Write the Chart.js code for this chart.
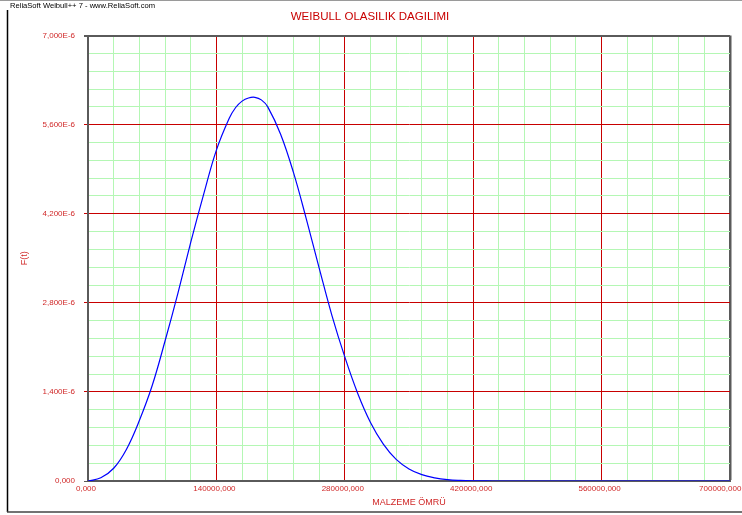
<!DOCTYPE html>
<html>
<head>
<meta charset="utf-8">
<script src="https://cdn.jsdelivr.net/npm/chart.js@4.4.1/dist/chart.umd.min.js"></script>
<style>
  html, body { margin: 0; padding: 0; background: #fff; }
  #chart { display: block; }
</style>
</head>
<body>
<canvas id="chart" width="742" height="515"></canvas>
<script>
var chartTitle = 'WEIBULL OLASILIK DAGILIMI';
var headerText = 'ReliaSoft Weibull++ 7 - www.ReliaSoft.com';
var xAxisTitle = 'MALZEME ÖMRÜ';
var yAxisTitle = 'F(t)';

// material life (x) and pdf, pdf in units of 1E-6
var lifeValues = [0, 14000, 28000, 42000, 56000, 70000, 84000, 98000, 112000, 126000,
  140000, 154000, 161000, 168000, 175000, 182000, 189000, 196000, 210000, 224000,
  238000, 252000, 266000, 280000, 294000, 308000, 322000, 336000, 350000, 364000,
  378000, 392000, 406000, 420000, 434000, 448000, 476000, 532000, 588000, 644000, 700000];
var pdfValues = [0, 0.05, 0.2, 0.5, 0.95, 1.5, 2.2, 2.95, 3.75, 4.5,
  5.2, 5.7, 5.87, 5.97, 6.02, 6.03, 5.99, 5.88, 5.45, 4.85,
  4.12, 3.35, 2.6, 1.95, 1.38, 0.92, 0.58, 0.34, 0.19, 0.1,
  0.05, 0.022, 0.009, 0.003, 0.001, 0, 0, 0, 0, 0, 0];

var xMajorTicks = [0, 140000, 280000, 420000, 560000, 700000];
var xTickLabels = ['0,000', '140000,000', '280000,000', '420000,000', '560000,000', '700000,000'];
var yMajorTicks = [0, 1.4, 2.8, 4.2, 5.6, 7.0];
var yTickLabels = ['0,000', '1,400E-6', '2,800E-6', '4,200E-6', '5,600E-6', '7,000E-6'];
var minorDivisions = 5;

var RED = '#c80000';
var LABEL_RED = '#d02828';
var GREEN = '#b4f7b4';
var BORDER = '#5a5a5a';
var FONT = '"Liberation Sans", Arial, sans-serif';

var buildTicks = function(majors) {
  var ticks = [];
  for (var i = 0; i < majors.length - 1; i++) {
    var step = (majors[i + 1] - majors[i]) / minorDivisions;
    for (var k = 0; k < minorDivisions; k++) {
      ticks.push({value: majors[i] + k * step});
    }
  }
  ticks.push({value: majors[majors.length - 1]});
  return ticks;
};

var gridColor = function(c) {
  var last = c.scale.ticks.length - 1;
  if (c.index === last) return BORDER;
  return c.index % minorDivisions === 0 ? RED : GREEN;
};

var points = lifeValues.map(function(x, i) {
  return {x: x, y: pdfValues[i]};
});

var framePlugin = {
  id: 'frame',
  beforeDraw: function(chart) {
    var ctx = chart.ctx;
    ctx.save();
    ctx.strokeStyle = '#9a9a9a';
    ctx.lineWidth = 1;
    ctx.beginPath();
    ctx.moveTo(0, 0.5);
    ctx.lineTo(742, 0.5);
    ctx.stroke();
    ctx.strokeStyle = '#000';
    ctx.lineWidth = 1.5;
    ctx.beginPath();
    ctx.moveTo(7.5, 10);
    ctx.lineTo(7.5, 512);
    ctx.stroke();
    ctx.strokeStyle = '#444';
    ctx.beginPath();
    ctx.moveTo(7, 512);
    ctx.lineTo(742, 512);
    ctx.stroke();
    ctx.fillStyle = '#000';
    ctx.font = '7.6px ' + FONT;
    ctx.textBaseline = 'middle';
    ctx.fillText(headerText, 10, 6);
    ctx.restore();
  }
};

new Chart(document.getElementById('chart'), {
  type: 'line',
  data: {
    datasets: [{
      data: points,
      borderColor: '#0000ff',
      borderWidth: 1.2,
      pointRadius: 0,
      fill: false,
      tension: 0.4
    }]
  },
  options: {
    responsive: false,
    animation: false,
    events: [],
    layout: {padding: {left: 10, right: 12, top: 0, bottom: 4}},
    plugins: {
      legend: {display: false},
      tooltip: {enabled: false},
      title: {
        display: true,
        text: chartTitle,
        color: RED,
        font: {family: FONT, size: 11.5, weight: 'normal'},
        padding: {top: 10, bottom: 11.8}
      }
    },
    scales: {
      x: {
        type: 'linear',
        min: 0,
        max: 700000,
        afterBuildTicks: function(scale) { scale.ticks = buildTicks(xMajorTicks); },
        afterFit: function(scale) {
          scale.height = 30;
          scale.paddingLeft = 0;
          scale.paddingRight = 0;
        },
        grid: {
          color: gridColor,
          lineWidth: function(c) { return c.index === c.scale.ticks.length - 1 ? 2.5 : 1; },
          drawTicks: false
        },
        border: {color: BORDER, width: 2},
        ticks: {
          autoSkip: false,
          maxRotation: 0,
          padding: 3,
          labelOffset: -2,
          color: LABEL_RED,
          font: {family: FONT, size: 8},
          callback: function(v, i) {
            if (i % minorDivisions !== 0) return '';
            var label = xTickLabels[i / minorDivisions];
            // last label is pushed left so it stays inside the window
            if (i === xMajorTicks.length * minorDivisions - minorDivisions) label += '\u00a0\u00a0\u00a0\u00a0\u00a0\u00a0\u00a0';
            return label;
          }
        },
        title: {
          display: true,
          text: xAxisTitle,
          color: LABEL_RED,
          font: {family: FONT, size: 9},
          padding: {top: 0, bottom: 2.6}
        }
      },
      y: {
        type: 'linear',
        min: 0,
        max: 7,
        afterBuildTicks: function(scale) { scale.ticks = buildTicks(yMajorTicks); },
        afterFit: function(scale) {
          scale.width = 78;
          scale.paddingTop = 0;
          scale.paddingBottom = 0;
        },
        grid: {
          color: gridColor,
          lineWidth: function(c) { return c.index === c.scale.ticks.length - 1 ? 2 : 1; },
          tickLength: 4,
          tickColor: function(c) {
            if (c.index % minorDivisions !== 0) return 'rgba(0,0,0,0)';
            if (c.index === 0 || c.index === c.scale.ticks.length - 1) return BORDER;
            return RED;
          }
        },
        border: {color: BORDER, width: 2},
        ticks: {
          autoSkip: false,
          padding: 9,
          color: LABEL_RED,
          font: {family: FONT, size: 8},
          callback: function(v, i) {
            return i % minorDivisions === 0 ? yTickLabels[i / minorDivisions] : '';
          }
        },
        title: {
          display: true,
          text: yAxisTitle,
          color: LABEL_RED,
          font: {family: FONT, size: 9},
          padding: {top: 9.6, bottom: 0}
        }
      }
    }
  },
  plugins: [framePlugin]
});
</script>
</body>
</html>
